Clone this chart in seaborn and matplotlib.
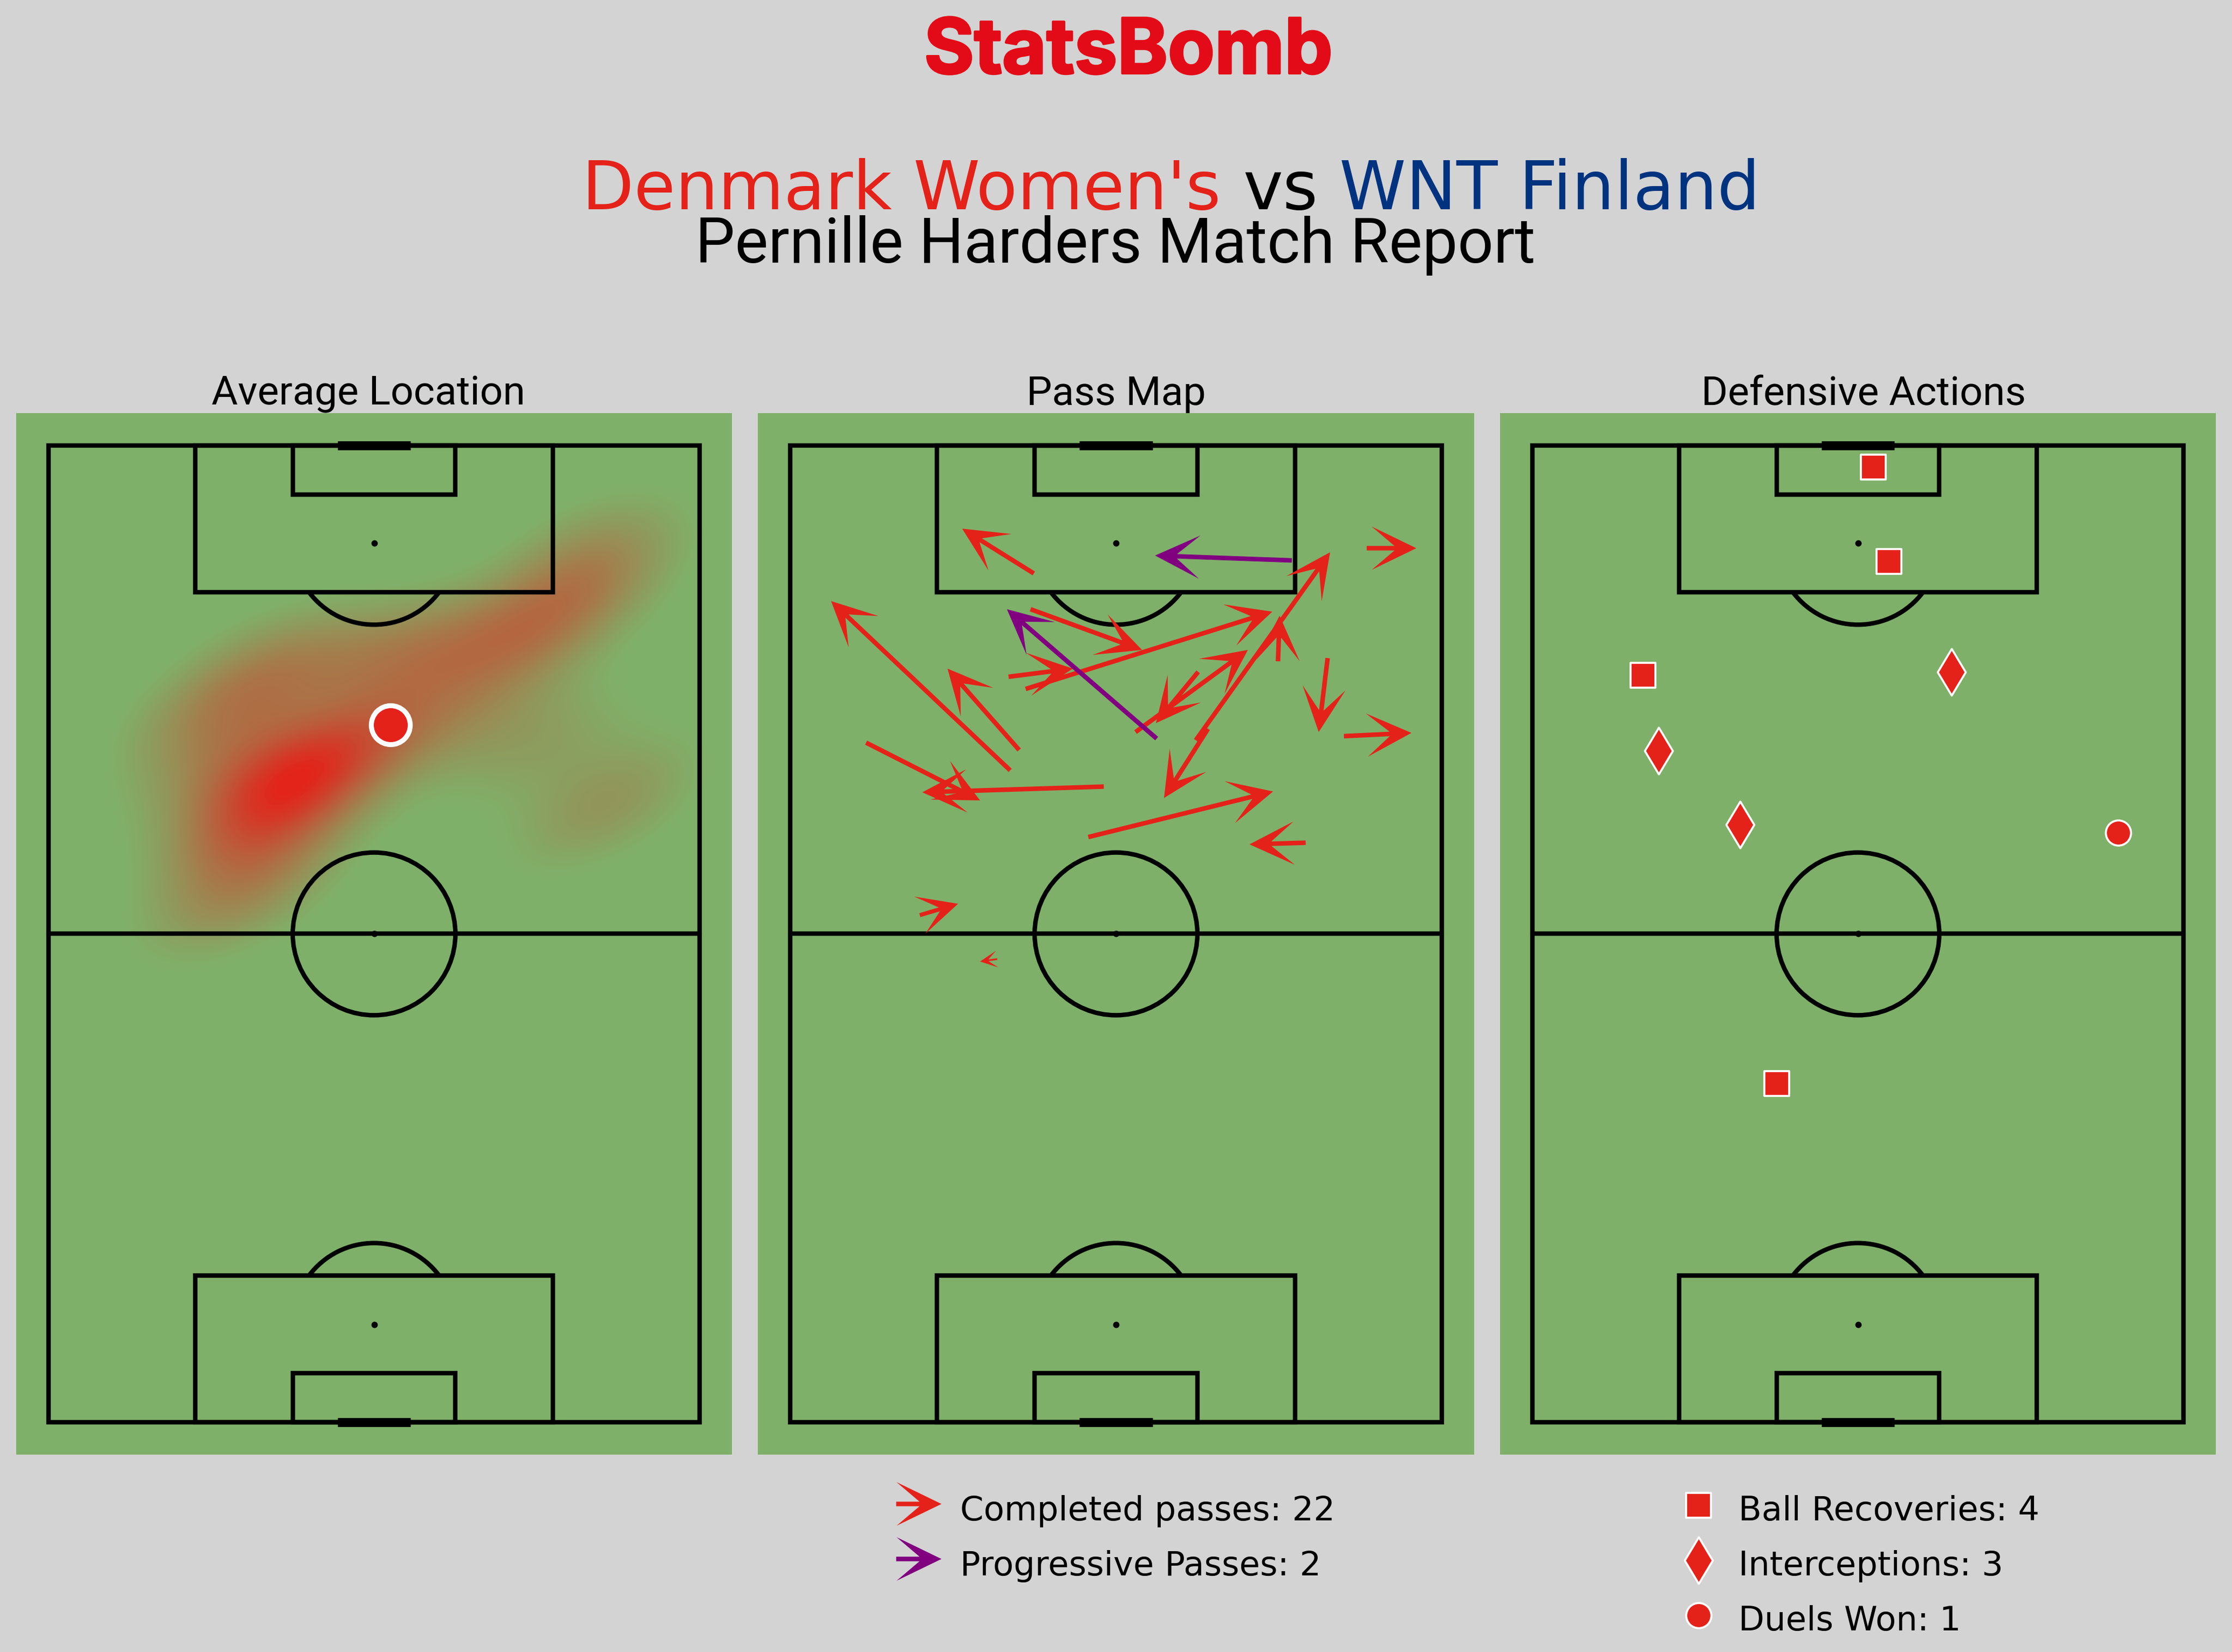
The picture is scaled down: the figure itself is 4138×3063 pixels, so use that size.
import pandas as pd
import matplotlib
matplotlib.use("Agg")
import matplotlib.pyplot as plt
import matplotlib.patheffects as pe
import seaborn as sns
from matplotlib.colors import LinearSegmentedColormap
from matplotlib.patches import Arc, Circle, Rectangle

# COLOURS
bg_col = "#D3D3D3"
grass = "#7FB069"
red = "#E4221A"
purple = "#800080"
blue = "#00337F"
logo_red = "#E30B17"

# LOCATIONS THE HEAT MAP IS BUILT FROM
heat_x = [66, 67, 64, 62, 58, 52, 47, 42, 36, 27, 46, 38, 36, 32, 30, 29, 31, 28, 27, 26, 24, 23, 24, 22, 21, 20, 25, 54, 61, 69, 68]
heat_y = [108, 104, 102, 98, 95, 95, 95, 94, 94, 94, 87, 84, 81, 82, 79, 78, 76, 80, 75, 70, 66, 63, 72, 80, 84, 88, 90, 86, 83, 78, 74]
avg_x = 42.0
avg_y = 85.7

# PASSES
pass_x0 = [29.9, 70.8, 49.8, 28.9, 29.5, 26.8, 28.1, 27.0, 9.3, 38.5, 59.9, 66.0, 68.0, 42.4, 50.1, 51.3, 36.6, 63.3, 15.9, 25.4]
pass_y0 = [104.3, 107.4, 83.8, 90.1, 99.9, 91.6, 82.6, 80.1, 83.5, 78.1, 93.5, 93.9, 84.3, 84.8, 92.2, 85.2, 71.9, 71.2, 62.3, 56.9]
pass_x1 = [21.1, 76.9, 66.3, 59.2, 43.2, 34.7, 19.3, 5.0, 23.3, 16.2, 60.1, 64.9, 76.3, 56.2, 44.9, 45.9, 59.3, 56.4, 20.6, 23.3]
pass_y1 = [109.8, 107.4, 106.9, 99.6, 94.9, 92.6, 92.6, 100.9, 76.4, 77.4, 99.1, 84.8, 84.7, 94.9, 85.9, 76.7, 77.5, 71.0, 63.7, 56.6]

prog_x0 = [61.6, 45.0]
prog_y0 = [105.9, 84.0]
prog_x1 = [44.8, 26.6]
prog_y1 = [106.5, 99.9]

# DEFENSIVE ACTIONS
recov_x = [41.9, 43.8, 13.6, 30.0]
recov_y = [117.4, 105.8, 91.8, 41.6]
inter_x = [51.5, 15.5, 25.5]
inter_y = [92.2, 82.5, 73.4]
duel_x = [72.0]
duel_y = [72.4]

# TEXT
panel_titles = ["Average Location", "Pass Map", "Defensive Actions"]
title_x = [0.492, 0.5, 0.508]
pass_labels = ["Completed passes: 22", "Progressive Passes: 2"]
def_labels = ["Ball Recoveries: 4", "Interceptions: 3", "Duels Won: 1"]

W, H = 4138, 3063
LINE_W = 2.0


def px_rect(left, top, right, bottom):
    return [left / W, 1 - bottom / H, (right - left) / W, (bottom - top) / H]


def draw_pitch(ax):
    ax.set_xlim(-4, 84)
    ax.set_ylim(-4, 124)
    ax.set_facecolor(grass)
    ax.set_xticks([])
    ax.set_yticks([])
    sns.despine(ax=ax, left=True, bottom=True)
    kw = dict(fill=False, ec="black", lw=LINE_W, zorder=2)
    ax.add_patch(Rectangle((0, 0), 80, 120, **kw))
    ax.plot([0, 80], [60, 60], color="black", lw=LINE_W, zorder=2)
    ax.add_patch(Circle((40, 60), 10, **kw))
    for spot, sign in [(12, 1), (108, -1)]:
        box_y = 0 if sign == 1 else 102
        six_y = 0 if sign == 1 else 114
        ax.add_patch(Rectangle((18, box_y), 44, 18, **kw))
        ax.add_patch(Rectangle((30, six_y), 20, 6, **kw))
        ax.add_patch(Arc((40, spot), 20, 20, theta1=37 if sign == 1 else 217,
                         theta2=143 if sign == 1 else 323, ec="black", lw=LINE_W, zorder=2))
        ax.scatter([40], [spot], s=8, color="black", zorder=2, linewidths=0)
    ax.scatter([40], [60], s=8, color="black", zorder=2, linewidths=0)
    for end in [0, 120]:
        ax.plot([35.5, 44.5], [end, end], color="black", lw=4, zorder=2, solid_capstyle="butt")


def draw_arrows(ax, x0, y0, x1, y1, colour, z):
    df = pd.DataFrame({"x0": x0, "y0": y0, "x1": x1, "y1": y1})
    ax.quiver(df.x0, df.y0, df.x1 - df.x0, df.y1 - df.y0, color=colour, angles="xy",
              scale_units="xy", scale=1, units="xy", width=0.56, headwidth=9.5,
              headlength=9.8, headaxislength=4.8, zorder=z)


sns.set_theme(style="white", rc={"figure.facecolor": bg_col, "savefig.facecolor": bg_col})
plt.rcParams["font.family"] = ["DejaVu Sans"]

fig = plt.figure(figsize=(W / 300, H / 300), dpi=300)

ax1 = fig.add_axes(px_rect(30, 766, 1357, 2697))
ax2 = fig.add_axes(px_rect(1405, 766, 2733, 2697))
ax3 = fig.add_axes(px_rect(2781, 766, 4108, 2697))

for ax, name, tx in zip([ax1, ax2, ax3], panel_titles, title_x):
    draw_pitch(ax)
    ax.set_title(name, family="Roboto", fontsize=18, color="black", pad=-0.5, x=tx)

# HEAT MAP
heat_df = pd.DataFrame({"x": heat_x, "y": heat_y})
heat_cmap = LinearSegmentedColormap.from_list("heat", [grass, red])
sns.kdeplot(data=heat_df, x="x", y="y", fill=True, levels=100, thresh=0.05, cmap=heat_cmap,
            gridsize=200, bw_adjust=0.82, ax=ax1, zorder=1)
ax1.scatter([avg_x], [avg_y], s=300, color=red, edgecolors="white", linewidths=2.2, zorder=3)
ax1.set_xlabel("")
ax1.set_ylabel("")
ax1.set_xlim(-4, 84)
ax1.set_ylim(-4, 124)

# PASS MAP
draw_arrows(ax2, pass_x0, pass_y0, pass_x1, pass_y1, red, 3)
draw_arrows(ax2, prog_x0, prog_y0, prog_x1, prog_y1, purple, 4)

# DEFENSIVE ACTIONS
recov_df = pd.DataFrame({"x": recov_x, "y": recov_y})
inter_df = pd.DataFrame({"x": inter_x, "y": inter_y})
duel_df = pd.DataFrame({"x": duel_x, "y": duel_y})
sns.scatterplot(data=recov_df, x="x", y="y", marker="s", s=125, color=red, edgecolor="white", linewidth=0.9, ax=ax3, zorder=3)
sns.scatterplot(data=inter_df, x="x", y="y", marker="d", s=215, color=red, edgecolor="white", linewidth=0.9, ax=ax3, zorder=3)
sns.scatterplot(data=duel_df, x="x", y="y", marker="o", s=125, color=red, edgecolor="white", linewidth=0.9, ax=ax3, zorder=3)
ax3.set_xlabel("")
ax3.set_ylabel("")
ax3.set_xlim(-4, 84)
ax3.set_ylim(-4, 124)

# LEGENDS
leg = fig.add_axes([0, 0, 1, 1], facecolor="none")
leg.set_xlim(0, W)
leg.set_ylim(H, 0)
leg.set_axis_off()
for row, (label, colour) in enumerate(zip(pass_labels, [red, purple])):
    y = 2788 + 102 * row
    leg.quiver([1661], [y], [84], [0], color=colour, angles="xy", scale_units="xy", scale=1,
               units="xy", width=8.5, headwidth=9.5, headlength=9.8, headaxislength=4.8)
    leg.text(1780, y + 14, label, fontsize=15, va="center", ha="left", color="black")
for row, (label, mark, size) in enumerate(zip(def_labels, ["s", "d", "o"], [125, 215, 125])):
    y = 2791 + 102 * row
    leg.scatter([3149], [y], marker=mark, s=size, color=red, edgecolors="white", linewidths=0.9)
    leg.text(3223, y + 11, label, fontsize=15, va="center", ha="left", color="black")

# TITLES
leg.text(2092, 136, "StatsBomb", family="Inter", fontweight="bold", fontsize=34, color=logo_red, ha="center", va="baseline",
         path_effects=[pe.withStroke(linewidth=1, foreground=logo_red)])
leg.text(1079, 388, "Denmark Women's", fontsize=30, color=red, ha="left", va="baseline")
leg.text(2304, 388, "vs", fontsize=30, color="black", ha="left", va="baseline")
leg.text(2483, 388, "WNT Finland", fontsize=30, color=blue, ha="left", va="baseline")
leg.text(2068, 487, "Pernille Harders Match Report", family="Roboto", fontsize=28, color="black", ha="center", va="baseline")

plt.savefig("out.png", dpi=300, facecolor=bg_col)
